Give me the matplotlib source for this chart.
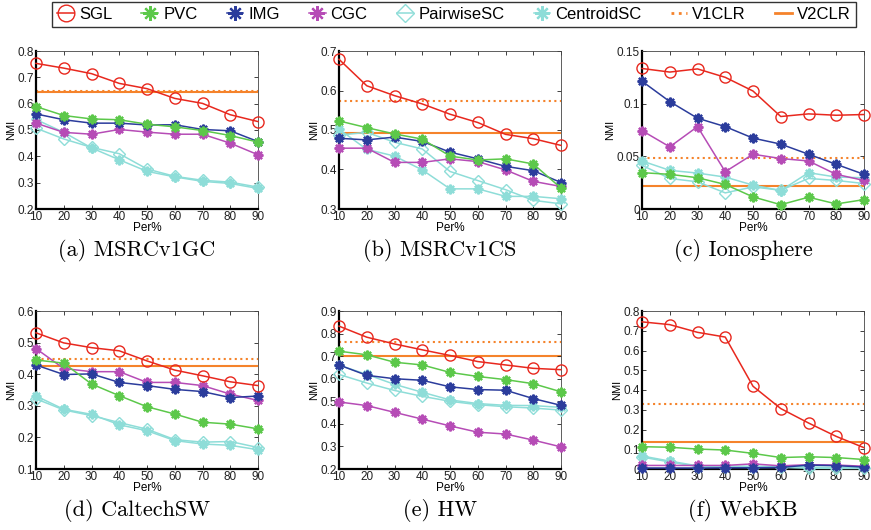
import matplotlib
matplotlib.use('Agg')
import matplotlib.pyplot as plt
from matplotlib.ticker import FuncFormatter

per = [10, 20, 30, 40, 50, 60, 70, 80, 90]

names = ['SGL', 'PVC', 'IMG', 'CGC', 'PairwiseSC', 'CentroidSC']
captions = ['(a) MSRCv1GC', '(b) MSRCv1CS', '(c) Ionosphere',
            '(d) CaltechSW', '(e) HW', '(f) WebKB']

# (a) MSRCv1GC
a_sgl = [0.753, 0.735, 0.714, 0.677, 0.657, 0.620, 0.601, 0.558, 0.532]
a_pvc = [0.589, 0.555, 0.542, 0.539, 0.522, 0.512, 0.498, 0.479, 0.454]
a_img = [0.561, 0.539, 0.526, 0.526, 0.519, 0.520, 0.502, 0.497, 0.456]
a_cgc = [0.526, 0.491, 0.484, 0.502, 0.492, 0.484, 0.484, 0.450, 0.406]
a_pw = [0.507, 0.466, 0.434, 0.410, 0.352, 0.324, 0.309, 0.302, 0.283]
a_ce = [0.540, 0.491, 0.432, 0.387, 0.343, 0.322, 0.305, 0.297, 0.278]
a_v1, a_v2 = 0.650, 0.644

# (b) MSRCv1CS
b_sgl = [0.679, 0.612, 0.587, 0.566, 0.540, 0.519, 0.489, 0.478, 0.461]
b_pvc = [0.523, 0.506, 0.490, 0.477, 0.434, 0.424, 0.427, 0.414, 0.353]
b_img = [0.479, 0.475, 0.482, 0.471, 0.444, 0.427, 0.408, 0.397, 0.367]
b_cgc = [0.454, 0.454, 0.418, 0.418, 0.427, 0.420, 0.399, 0.370, 0.357]
b_pw = [0.487, 0.494, 0.469, 0.452, 0.395, 0.372, 0.349, 0.322, 0.313]
b_ce = [0.502, 0.451, 0.434, 0.399, 0.351, 0.351, 0.332, 0.332, 0.326]
b_v1, b_v2 = 0.574, 0.493

# (c) Ionosphere
c_sgl = [0.1334, 0.1300, 0.1330, 0.1250, 0.1120, 0.0878, 0.0903, 0.0890, 0.0897]
c_pvc = [0.0345, 0.0329, 0.0297, 0.0233, 0.0115, 0.0041, 0.0112, 0.0048, 0.0089]
c_img = [0.1213, 0.1020, 0.0862, 0.0782, 0.0673, 0.0616, 0.0520, 0.0424, 0.0329]
c_cgc = [0.0744, 0.0590, 0.0782, 0.0354, 0.0520, 0.0479, 0.0456, 0.0329, 0.0271]
c_pw = [0.0415, 0.0290, 0.0258, 0.0153, 0.0210, 0.0178, 0.0290, 0.0271, 0.0242]
c_ce = [0.0456, 0.0367, 0.0341, 0.0303, 0.0227, 0.0175, 0.0345, 0.0303, 0.0297]
c_v1, c_v2 = 0.0485, 0.0214

# (d) CaltechSW
d_sgl = [0.531, 0.499, 0.484, 0.474, 0.442, 0.413, 0.395, 0.376, 0.364]
d_pvc = [0.445, 0.435, 0.369, 0.332, 0.297, 0.274, 0.248, 0.242, 0.227]
d_img = [0.429, 0.399, 0.401, 0.374, 0.364, 0.352, 0.345, 0.326, 0.331]
d_cgc = [0.481, 0.418, 0.408, 0.408, 0.374, 0.374, 0.364, 0.337, 0.317]
d_pw = [0.322, 0.287, 0.269, 0.247, 0.226, 0.193, 0.185, 0.187, 0.168]
d_ce = [0.331, 0.289, 0.273, 0.240, 0.221, 0.190, 0.179, 0.175, 0.161]
d_v1, d_v2 = 0.449, 0.425

# (e) HW
e_sgl = [0.833, 0.784, 0.754, 0.728, 0.703, 0.676, 0.661, 0.646, 0.640]
e_pvc = [0.722, 0.706, 0.673, 0.661, 0.628, 0.610, 0.596, 0.578, 0.542]
e_img = [0.661, 0.615, 0.600, 0.593, 0.564, 0.552, 0.549, 0.512, 0.482]
e_cgc = [0.497, 0.481, 0.451, 0.421, 0.391, 0.363, 0.355, 0.328, 0.298]
e_pw = [0.619, 0.581, 0.548, 0.522, 0.500, 0.485, 0.476, 0.470, 0.461]
e_ce = [0.660, 0.619, 0.575, 0.540, 0.506, 0.490, 0.482, 0.481, 0.473]
e_v1, e_v2 = 0.761, 0.699

# (f) WebKB
f_sgl = [0.745, 0.731, 0.692, 0.668, 0.419, 0.306, 0.233, 0.165, 0.108]
f_pvc = [0.113, 0.110, 0.101, 0.096, 0.079, 0.058, 0.062, 0.058, 0.048]
f_img = [0.005, 0.005, 0.005, 0.006, 0.006, 0.008, 0.020, 0.017, 0.010]
f_cgc = [0.018, 0.018, 0.018, 0.018, 0.026, 0.016, 0.022, 0.020, 0.014]
f_pw = [0.060, 0.036, 0.012, 0.010, 0.008, 0.008, 0.004, 0.003, 0.003]
f_ce = [0.066, 0.040, 0.016, 0.015, 0.014, 0.014, 0.010, 0.008, 0.008]
f_v1, f_v2 = 0.331, 0.136

panels = [
    ([a_sgl, a_pvc, a_img, a_cgc, a_pw, a_ce], a_v1, a_v2, (0.2, 0.8), [0.2, 0.3, 0.4, 0.5, 0.6, 0.7, 0.8]),
    ([b_sgl, b_pvc, b_img, b_cgc, b_pw, b_ce], b_v1, b_v2, (0.3, 0.7), [0.3, 0.4, 0.5, 0.6, 0.7]),
    ([c_sgl, c_pvc, c_img, c_cgc, c_pw, c_ce], c_v1, c_v2, (0.0, 0.15), [0, 0.05, 0.1, 0.15]),
    ([d_sgl, d_pvc, d_img, d_cgc, d_pw, d_ce], d_v1, d_v2, (0.1, 0.6), [0.1, 0.2, 0.3, 0.4, 0.5, 0.6]),
    ([e_sgl, e_pvc, e_img, e_cgc, e_pw, e_ce], e_v1, e_v2, (0.2, 0.9), [0.2, 0.3, 0.4, 0.5, 0.6, 0.7, 0.8, 0.9]),
    ([f_sgl, f_pvc, f_img, f_cgc, f_pw, f_ce], f_v1, f_v2, (0.0, 0.8), [0, 0.1, 0.2, 0.3, 0.4, 0.5, 0.6, 0.7, 0.8]),
]

asterisk = (8, 2, 0)
styles = {
    'SGL': {'color': '#E8281E', 'marker': 'o', 'ms': 8, 'mew': 1.0},
    'PVC': {'color': '#5CC84A', 'marker': asterisk, 'ms': 7, 'mew': 1.6},
    'IMG': {'color': '#2B3C9C', 'marker': asterisk, 'ms': 7, 'mew': 1.6},
    'CGC': {'color': '#B64CB6', 'marker': asterisk, 'ms': 7, 'mew': 1.6},
    'PairwiseSC': {'color': '#8EDDD8', 'marker': 'D', 'ms': 6, 'mew': 1.0},
    'CentroidSC': {'color': '#8EDDD8', 'marker': asterisk, 'ms': 7, 'mew': 1.6},
}
orange = '#F5832B'

plt.rcParams['font.family'] = ['Liberation Sans', 'DejaVu Sans']

fig = plt.figure(figsize=(8.71, 5.30), dpi=100)

lefts = [36, 339, 642]
tops = [51, 311]
W, H = 871.0, 530.0
aw, ah = 222, 158

handles = []
for i, (series, v1, v2, ylim, yticks) in enumerate(panels):
    r, c = divmod(i, 3)
    ax = fig.add_axes([lefts[c] / W, 1 - (tops[r] + ah) / H, aw / W, ah / H])
    ax.axhline(v1, color=orange, linestyle=':', linewidth=1.5, zorder=1)
    ax.axhline(v2, color=orange, linestyle='-', linewidth=1.5, zorder=1)
    lines = []
    # lower series first so SGL ends up on top
    for name, vals in reversed(list(zip(names, series))):
        s = styles[name]
        ln, = ax.plot(per, vals, color=s['color'], marker=s['marker'], markersize=s['ms'],
                      markerfacecolor='none', markeredgewidth=s['mew'], linewidth=1.1,
                      label=name, clip_on=False, zorder=3)
        lines.append(ln)
    if i == 0:
        handles = list(reversed(lines))
    ax.set_xlim(10, 90)
    ax.set_ylim(*ylim)
    ax.set_xticks(per)
    ax.set_yticks(yticks)
    ax.yaxis.set_major_formatter(FuncFormatter(lambda v, p: '%g' % round(v, 3)))
    ax.tick_params(direction='in', length=3, width=0.6, labelsize=8.5, pad=1.5,
                   top=True, right=True, colors='#222222')
    for side in ['left', 'bottom']:
        ax.spines[side].set_linewidth(1.6)
        ax.spines[side].set_color('black')
    for side in ['top', 'right']:
        ax.spines[side].set_linewidth(0.6)
        ax.spines[side].set_color('#444444')
    ax.set_xlabel('Per%', fontsize=8.5, labelpad=-1)
    ax.set_ylabel('NMI', fontsize=8, labelpad=1)
    fig.text((lefts[c] + aw / 2 - 10) / W, 1 - (tops[r] + ah + 42) / H, captions[i],
             family='cmr10', fontsize=16, ha='center', va='center')

v1h, = plt.plot([], [], color=orange, linestyle=':', linewidth=2)
v2h, = plt.plot([], [], color=orange, linestyle='-', linewidth=2)
leg = fig.legend(handles + [v1h, v2h], names + ['V1CLR', 'V2CLR'],
                 loc='upper center', bbox_to_anchor=(454 / W, 1 - 2 / H), ncol=8,
                 fontsize=12, frameon=True, fancybox=False, edgecolor='black',
                 handlelength=1.0, handletextpad=0.3, columnspacing=1.75,
                 markerscale=1.5, borderpad=0.3, borderaxespad=0)
leg.get_frame().set_linewidth(1.0)

fig.savefig('out.png', dpi=100)
